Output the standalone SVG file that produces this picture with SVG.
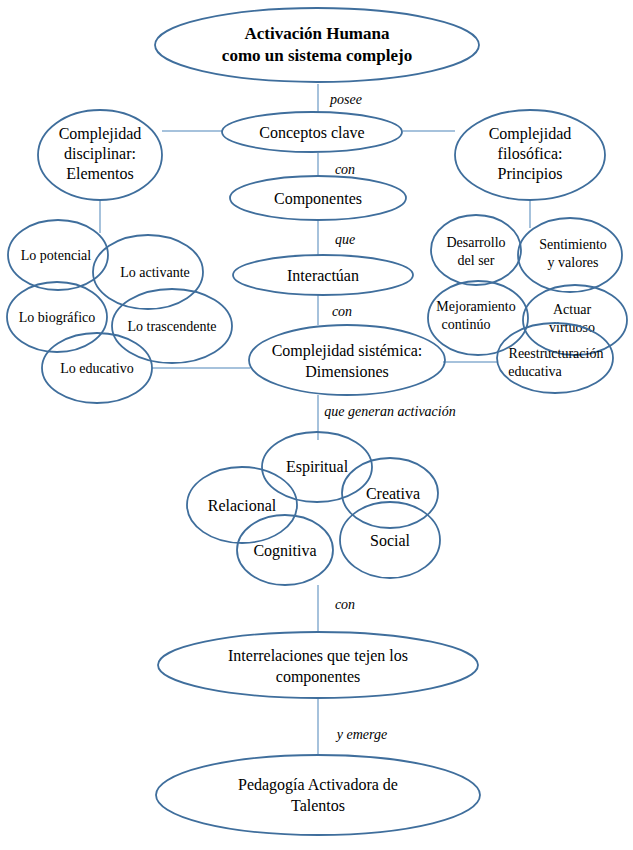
<svg xmlns="http://www.w3.org/2000/svg" width="633" height="850" viewBox="0 0 633 850">
<style>
ellipse{fill:none;stroke:#3f6e9c;stroke-width:1.8}
line{stroke:#a6c2dc;stroke-width:2}
text{font-family:"Liberation Serif",serif;font-size:16px;fill:#000;text-anchor:middle}
.s{font-size:14px}
.i{font-style:italic;font-size:14px}
.b{font-weight:bold;font-size:17px}
</style>
<rect width="633" height="850" fill="#fff"/>
<g id="connectors">
<line x1="318" y1="84" x2="318" y2="113"/>
<line x1="162" y1="131" x2="222" y2="131"/>
<line x1="403" y1="131" x2="455" y2="131"/>
<line x1="318" y1="153" x2="318" y2="176"/>
<line x1="318" y1="220" x2="318" y2="255"/>
<line x1="318" y1="295" x2="318" y2="325"/>
<line x1="100" y1="200" x2="100" y2="233"/>
<line x1="530" y1="200" x2="530" y2="228"/>
<line x1="152" y1="368" x2="250" y2="368"/>
<line x1="443" y1="362" x2="498" y2="362"/>
<line x1="318" y1="395" x2="318" y2="440"/>
<line x1="318" y1="585" x2="318" y2="632"/>
<line x1="318" y1="698" x2="318" y2="755"/>
<text class="i" x="346" y="104">posee</text>
<text class="i" x="345" y="174">con</text>
<text class="i" x="345" y="244">que</text>
<text class="i" x="342" y="316">con</text>
<text class="i" x="390" y="416">que generan activación</text>
<text class="i" x="345" y="609">con</text>
<text class="i" x="362" y="739">y emerge</text>
</g>
<g id="n-top"><ellipse cx="317" cy="45" rx="162" ry="37"/><text class="b" x="317" y="39">Activación Humana</text><text class="b" x="317" y="61">como un sistema complejo</text></g>
<g id="n-conceptos"><ellipse cx="312" cy="132" rx="90" ry="20"/><text x="312" y="138">Conceptos clave</text></g>
<g id="n-disc"><ellipse cx="100" cy="155" rx="62" ry="45"/><text x="100" y="139">Complejidad</text><text x="100" y="159">disciplinar:</text><text x="100" y="179">Elementos</text></g>
<g id="n-filo"><ellipse cx="530" cy="155" rx="75" ry="45"/><text x="530" y="139">Complejidad</text><text x="530" y="159">filosófica:</text><text x="530" y="179">Principios</text></g>
<g id="n-comp"><ellipse cx="318" cy="198" rx="88" ry="22"/><text x="318" y="204">Componentes</text></g>
<g id="n-inter"><ellipse cx="323" cy="275" rx="90" ry="20"/><text x="323" y="281">Interactúan</text></g>
<g id="n-sist"><ellipse cx="347" cy="360" rx="98" ry="35"/><text x="347" y="356">Complejidad sistémica:</text><text x="347" y="377">Dimensiones</text></g>
<g id="n-pot"><ellipse cx="58" cy="255" rx="50" ry="35"/><text class="s" x="56" y="260">Lo potencial</text></g>
<g id="n-act"><ellipse cx="148" cy="272" rx="55" ry="37"/><text class="s" x="155" y="277">Lo activante</text></g>
<g id="n-bio"><ellipse cx="57" cy="317" rx="50" ry="35"/><text class="s" x="57" y="322">Lo biográfico</text></g>
<g id="n-tras"><ellipse cx="172" cy="326" rx="60" ry="37"/><text class="s" x="172" y="331">Lo trascendente</text></g>
<g id="n-edu"><ellipse cx="97" cy="368" rx="55" ry="35"/><text class="s" x="97" y="373">Lo educativo</text></g>
<g id="n-des"><ellipse cx="476" cy="250" rx="45" ry="35"/><text class="s" x="476" y="247">Desarrollo</text><text class="s" x="476" y="265">del ser</text></g>
<g id="n-sen"><ellipse cx="570" cy="255" rx="52" ry="37"/><text class="s" x="573" y="249">Sentimiento</text><text class="s" x="573" y="267">y valores</text></g>
<g id="n-mej"><ellipse cx="478" cy="318" rx="50" ry="37"/><text class="s" x="476" y="311">Mejoramiento</text><text class="s" x="466" y="329">continúo</text></g>
<g id="n-actu"><ellipse cx="575" cy="320" rx="52" ry="35"/><text class="s" x="572" y="314">Actuar</text><text class="s" x="572" y="332">virtuoso</text></g>
<g id="n-rees"><ellipse cx="555" cy="358" rx="58" ry="35"/><text class="s" x="556" y="358">Reestructuración</text><text class="s" x="535" y="376">educativa</text></g>
<g id="n-esp"><ellipse cx="317" cy="467" rx="55" ry="35"/><text x="317" y="472">Espiritual</text></g>
<g id="n-cre"><ellipse cx="390" cy="493" rx="48" ry="35"/><text x="393" y="499">Creativa</text></g>
<g id="n-rel"><ellipse cx="242" cy="505" rx="55" ry="38"/><text x="242" y="511">Relacional</text></g>
<g id="n-cog"><ellipse cx="285" cy="550" rx="48" ry="35"/><text x="285" y="556">Cognitiva</text></g>
<g id="n-soc"><ellipse cx="390" cy="540" rx="50" ry="38"/><text x="390" y="546">Social</text></g>
<g id="n-interrel"><ellipse cx="318" cy="665" rx="160" ry="33"/><text x="318" y="661">Interrelaciones que tejen los</text><text x="318" y="682">componentes</text></g>
<g id="n-ped"><ellipse cx="318" cy="795" rx="162" ry="40"/><text x="318" y="790">Pedagogía Activadora de</text><text x="318" y="811">Talentos</text></g>
</svg>
